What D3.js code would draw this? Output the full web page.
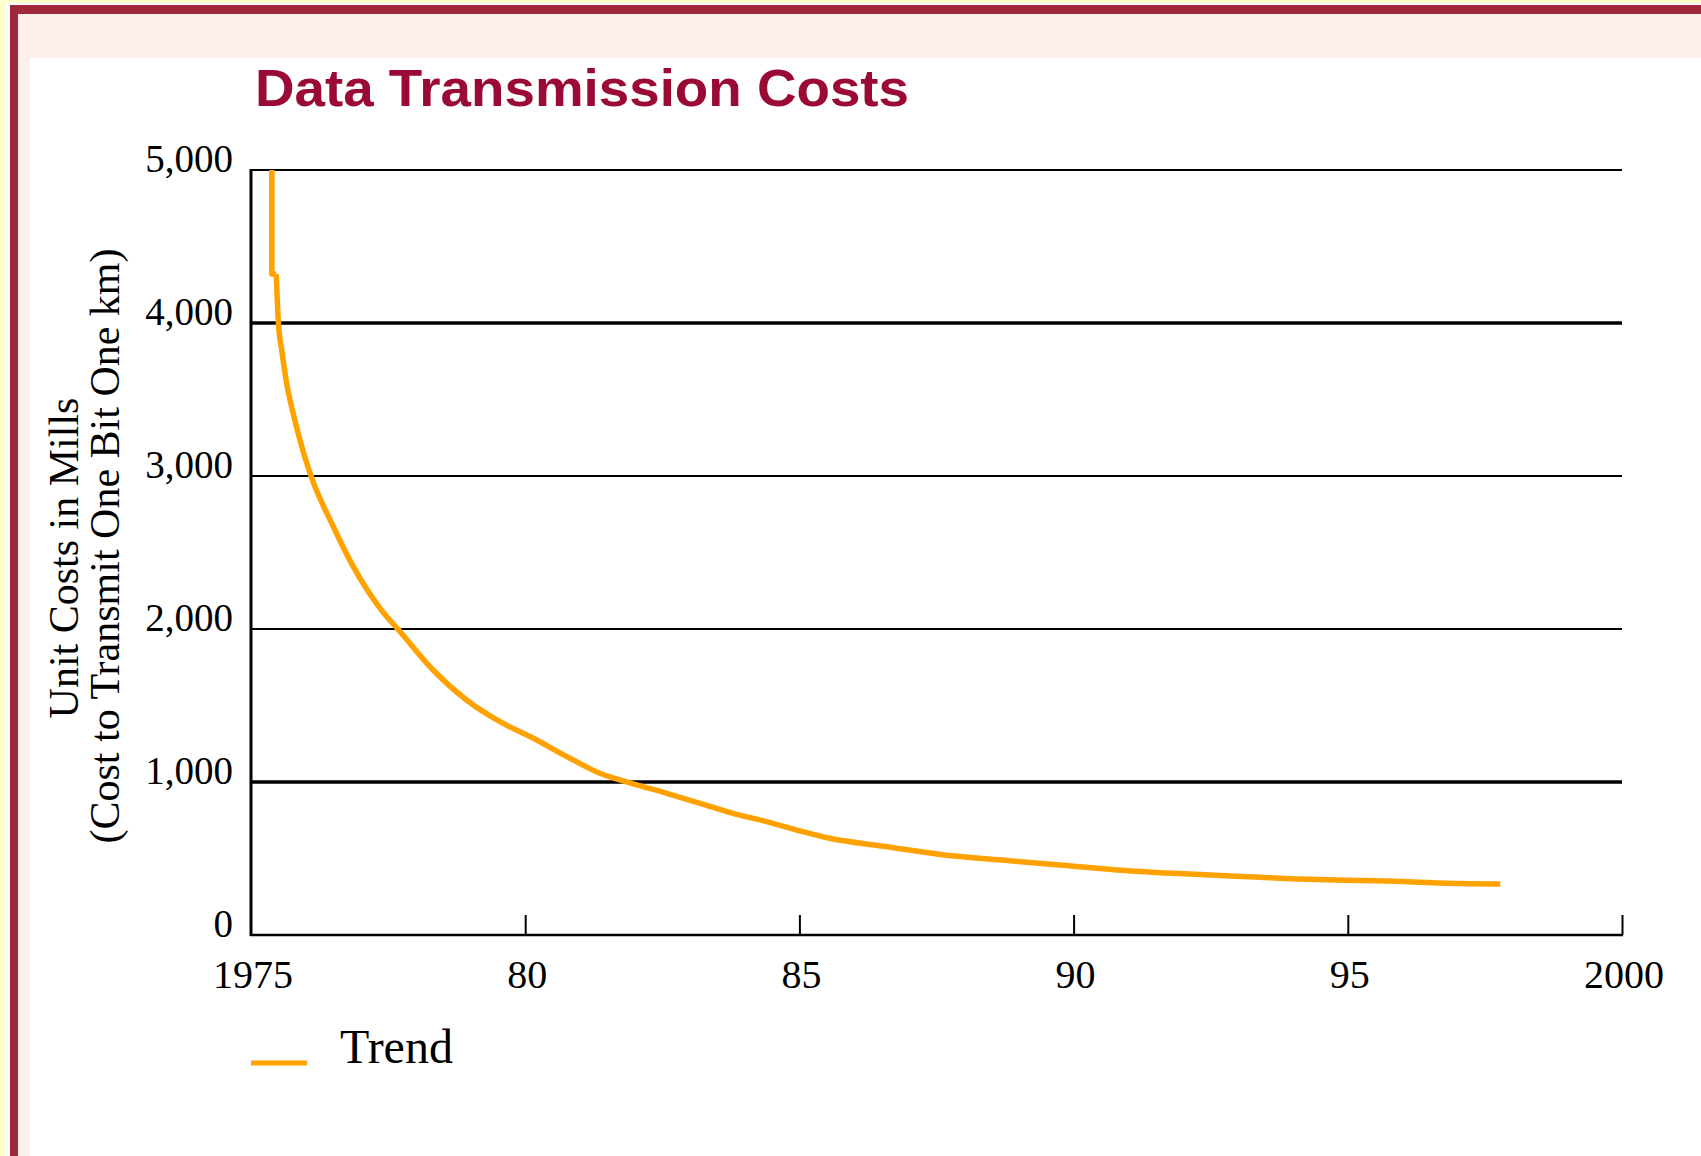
<!DOCTYPE html>
<html>
<head>
<meta charset="utf-8">
<script src="https://cdn.jsdelivr.net/npm/d3@7"></script>
<style>
  html, body { margin: 0; padding: 0; background: #ffffcc; }
  svg { display: block; }
</style>
</head>
<body>
<script>
// ---- data ----
const years = [1975.38, 1975.38, 1975.46, 1975.50, 1975.56, 1975.65, 1975.74, 1975.86, 1975.98, 1976.11, 1976.50, 1976.87, 1977.35, 1977.72, 1978.32, 1978.93, 1979.54, 1980.15, 1980.76, 1981.36, 1981.91, 1982.58, 1983.19, 1983.79, 1984.40, 1984.95, 1985.55, 1986.60, 1987.64, 1988.69, 1989.74, 1990.79, 1991.83, 1992.88, 1994.45, 1996.00, 1997.06, 1997.78];
const costs = [5000, 4320, 4320, 4000, 3824, 3606, 3453, 3279, 3126, 2985, 2670, 2404, 2137, 1982, 1732, 1536, 1394, 1286, 1166, 1057, 995, 926, 861, 795, 741, 686, 632, 577, 523, 490, 457, 425, 403, 386, 362, 350, 336, 333];
const yTicks = [0, 1000, 2000, 3000, 4000, 5000];
const yTickLabels = ["0", "1,000", "2,000", "3,000", "4,000", "5,000"];
const thickGrid = [1000, 4000];
const xTicks = [1975, 1980, 1985, 1990, 1995, 2000];
const xTickLabels = ["1975", "80", "85", "90", "95", "2000"];
const titleText = "Data Transmission Costs";
const yLabel1 = "Unit Costs in Mills";
const yLabel2 = "(Cost to Transmit One Bit One km)";
const seriesName = "Trend";

// ---- layout ----
const W = 1701, H = 1156;
const svg = d3.select("body").append("svg").attr("width", W).attr("height", H);

// frame
svg.append("rect").attr("x", 6).attr("y", 3).attr("width", W - 6).attr("height", H - 3).attr("fill", "#ffffff");
svg.append("rect").attr("x", 10).attr("y", 5).attr("width", W - 10).attr("height", H - 5).attr("fill", "#a0283c");
svg.append("rect").attr("x", 18).attr("y", 14).attr("width", W - 18).attr("height", H - 14).attr("fill", "#fdf0ec");
svg.append("rect").attr("x", 30).attr("y", 58).attr("width", W - 30).attr("height", H - 58).attr("fill", "#ffffff");

const x = d3.scaleLinear().domain([1975, 2000]).range([251, 1622]);
const y = d3.scaleLinear().domain([0, 5000]).range([935, 170]);

// title
svg.append("text").attr("x", 255).attr("y", 106)
  .attr("font-family", "Liberation Sans, Arial, sans-serif").attr("font-weight", "bold")
  .attr("font-size", 52).attr("fill", "#9a0a35")
  .attr("textLength", 654).attr("lengthAdjust", "spacingAndGlyphs")
  .text(titleText);

// gridlines
svg.append("g").selectAll("line").data(yTicks.filter(d => d > 0)).join("line")
  .attr("x1", x(1975)).attr("x2", x(2000))
  .attr("y1", d => y(d)).attr("y2", d => y(d))
  .attr("stroke", "#000").attr("stroke-width", d => thickGrid.includes(d) ? 3.5 : 2);

// x axis (ticks inward)
const xAxis = d3.axisTop(x).tickValues(xTicks.slice(1)).tickSize(20).tickFormat("");
const gx = svg.append("g").attr("transform", `translate(0,${y(0)})`).call(xAxis);
gx.select(".domain").remove();
gx.selectAll(".tick line").attr("stroke", "#000").attr("stroke-width", 2);
svg.append("line").attr("x1", x(1975) - 1).attr("x2", x(2000) + 1).attr("y1", y(0)).attr("y2", y(0))
  .attr("stroke", "#000").attr("stroke-width", 2.5);

// left axis line
svg.append("line").attr("x1", x(1975)).attr("x2", x(1975)).attr("y1", y(5000) - 1).attr("y2", y(0) + 1)
  .attr("stroke", "#000").attr("stroke-width", 3);

// y tick labels
svg.append("g").selectAll("text").data(yTicks).join("text")
  .attr("x", 233).attr("y", d => y(d) + 2)
  .attr("text-anchor", "end")
  .attr("font-family", "Liberation Serif, Times New Roman, serif").attr("font-size", 39)
  .attr("fill", "#000")
  .text((d, i) => yTickLabels[i]);

// x tick labels
svg.append("g").selectAll("text").data(xTicks).join("text")
  .attr("x", d => x(d) + 2).attr("y", 988)
  .attr("text-anchor", "middle")
  .attr("font-family", "Liberation Serif, Times New Roman, serif").attr("font-size", 40)
  .attr("fill", "#000")
  .text((d, i) => xTickLabels[i]);

// y axis title
svg.append("text").attr("transform", "translate(78,558) rotate(-90)")
  .attr("text-anchor", "middle")
  .attr("font-family", "Liberation Serif, Times New Roman, serif").attr("font-size", 42)
  .attr("fill", "#000").text(yLabel1);
svg.append("text").attr("transform", "translate(119,546) rotate(-90)")
  .attr("text-anchor", "middle")
  .attr("font-family", "Liberation Serif, Times New Roman, serif").attr("font-size", 42)
  .attr("fill", "#000").text(yLabel2);

// trend line: initial step drawn straight, remainder as a smooth monotone curve
const pts = years.map((yr, i) => [yr, costs[i]]);
const head = pts.slice(0, 3);
const tail = pts.slice(2);
const lineLinear = d3.line().x(d => x(d[0])).y(d => y(d[1]));
const lineSmooth = d3.line().x(d => x(d[0])).y(d => y(d[1])).curve(d3.curveMonotoneX);
const g = svg.append("g").attr("fill", "none").attr("stroke", "#ffa200").attr("stroke-width", 5.5)
  .attr("stroke-linejoin", "round");
g.append("path").datum(head).attr("d", lineLinear);
g.append("path").datum(tail).attr("d", lineSmooth);

// legend
svg.append("line").attr("x1", 251).attr("x2", 307).attr("y1", 1063).attr("y2", 1063)
  .attr("stroke", "#ffa200").attr("stroke-width", 5);
svg.append("text").attr("x", 340).attr("y", 1063)
  .attr("font-family", "Liberation Serif, Times New Roman, serif").attr("font-size", 48)
  .attr("fill", "#000").text(seriesName);
</script>
</body>
</html>
